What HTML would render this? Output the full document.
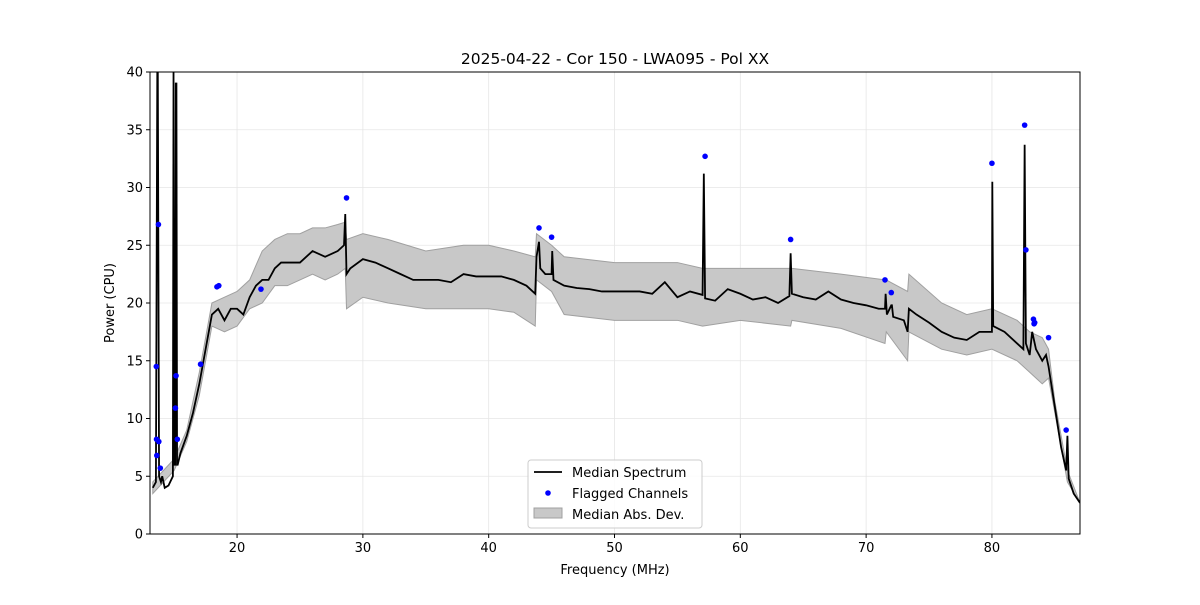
<!DOCTYPE html>
<html><head><meta charset="utf-8"><style>
body{margin:0;background:#fff;font-family:"Liberation Sans","DejaVu Sans",sans-serif}
svg text{font-family:"DejaVu Sans","Liberation Sans",sans-serif}
</style></head><body>
<svg id="chart" width="1200" height="600" xmlns="http://www.w3.org/2000/svg">
<rect width="1200" height="600" fill="#fff"/>
<g id="grid"></g><g id="band"></g><g id="series"></g><g id="axes"></g>
</svg>
<script>
const medFreq=[13.3,13.55,13.66,13.7,13.8,13.95,14.05,14.25,14.55,14.9,14.95,15.0,15.08,15.13,15.18,15.23,15.28,15.5,16,16.5,17,17.5,18,18.5,19,19.5,20,20.5,21,21.5,22,22.5,23,23.5,24,25,26,27,28,28.5,28.6,28.7,29,30,31,32,33,34,35,36,37,38,39,40,41,42,43,43.7,43.8,44,44.1,44.5,45,45.05,45.15,46,47,48,49,50,51,52,53,54,55,56,57,57.1,57.2,58,59,60,61,62,63,63.9,64,64.1,65,66,67,68,69,70,71,71.5,71.55,71.65,72,72.05,72.15,73,73.3,73.4,74,75,76,77,78,79,80,80.03,80.1,81,82,82.5,82.6,82.7,83,83.2,83.5,84,84.3,84.5,85,85.5,85.9,86,86.1,86.5,87];
const medVal=[4,4.5,40,40,5,4.5,5,4,4.2,5,40,6,6,39,39,6,6,7,8.5,10.5,13,16,19,19.5,18.5,19.5,19.5,19,20.5,21.5,22,22,23,23.5,23.5,23.5,24.5,24,24.5,25,27.7,22.5,23,23.8,23.5,23,22.5,22,22,22,21.8,22.5,22.3,22.3,22.3,22,21.5,20.8,24,25.3,23,22.5,22.5,24.5,22,21.5,21.3,21.2,21,21,21,21,20.8,21.8,20.5,21,20.7,31.2,20.4,20.2,21.2,20.8,20.3,20.5,20,20.6,24.3,20.8,20.5,20.3,21,20.3,20,19.8,19.5,19.5,20.8,19,19.8,19.8,18.8,18.5,17.5,19.5,19,18.3,17.5,17,16.8,17.5,17.5,30.5,18,17.5,16.5,16,33.7,16.5,15.5,17.5,16,15,15.5,14.5,11,7.5,5.5,8.5,4.8,3.5,2.7];
const bandFreq=[13.3,15,16,17,18,19,20,21,22,23,24,25,26,27,28,28.6,28.7,30,32,35,38,40,42,43.7,43.8,45,46,50,55,57,60,64,64.1,68,71.5,71.6,73.3,73.4,76,78,80,82,83,84,84.5,85,86,87];
const bandLo=[3.5,5.5,8,12,18,17.5,18,19.5,20,21.5,21.5,22,22.5,22,22.5,23,19.5,20.5,20,19.5,19.5,19.5,19.2,18,22,21,19,18.5,18.5,18,18.5,18,18.5,17.8,16.5,17.5,15,17.5,16,15.5,16,15,14,13,13.5,10.5,4.5,2.7];
const bandHi=[4.5,6.5,9,14,20,20.5,21,22,24.5,25.5,26,26,26.5,26.5,26.8,27,25.5,26,25.5,24.5,25,25,24.5,24,26,25,24,23.5,23.5,23,23,23,23,22.5,22,22,21,22.5,20,19,19.5,18.5,17.5,17,16,11.5,5.5,2.7];
const flagFreq=[13.6,13.62,13.58,13.75,13.78,13.9,15.1,15.15,15.25,17.1,18.4,18.55,21.9,28.7,44.0,45.0,57.2,64.0,71.5,72.0,80.0,82.6,82.7,83.3,83.35,83.4,84.5,85.9];
const flagVal=[8.2,6.8,14.5,26.8,8,5.7,10.9,13.7,8.2,14.7,21.4,21.5,21.2,29.1,26.5,25.7,32.7,25.5,22,20.9,32.1,35.4,24.6,18.6,18.2,18.3,17,9];
const xTicks=[20,30,40,50,60,70,80];
const yTicks=[0,5,10,15,20,25,30,35,40];
const L=150,R=1080,T=72,B=534,X0=13.08,X1=87.0,Y0=0,Y1=40;
const sx=f=>L+(f-X0)/(X1-X0)*(R-L);
const sy=v=>B-(v-Y0)/(Y1-Y0)*(B-T);
const NS="http://www.w3.org/2000/svg";
function mk(tag,attrs,parent){const e=document.createElementNS(NS,tag);for(const k in attrs)e.setAttribute(k,attrs[k]);parent.appendChild(e);return e;}
const svg=document.getElementById('chart');
const grid=document.getElementById('grid');
xTicks.forEach(t=>{const l=mk('line',{x1:sx(t),x2:sx(t),y1:T,y2:B,stroke:'#e6e6e6','stroke-width':0.8},grid);

});
yTicks.forEach(t=>{const l=mk('line',{x1:L,x2:R,y1:sy(t),y2:sy(t),stroke:'#e6e6e6','stroke-width':0.8},grid);

});
const clip=mk('clipPath',{id:'pc'},svg);mk('rect',{x:L,y:T,width:R-L,height:B-T},clip);
let d='M'+bandFreq.map((f,i)=>sx(f)+','+sy(bandHi[i])).join(' L');
for(let i=bandFreq.length-1;i>=0;i--)d+=' L'+sx(bandFreq[i])+','+sy(bandLo[i]);
const band=mk('path',{d:d+'Z',fill:'#c8c8c8',stroke:'#a0a0a0','stroke-width':1,'clip-path':'url(#pc)'},document.getElementById('band'));


const ser=document.getElementById('series');
const line=mk('polyline',{points:medFreq.map((f,i)=>sx(f)+','+sy(medVal[i])).join(' '),fill:'none',stroke:'#000','stroke-width':1.8,'clip-path':'url(#pc)'},ser);


flagFreq.forEach((f,i)=>{const c=mk('circle',{cx:sx(f),cy:sy(flagVal[i]),r:2.8,fill:'#0000ff'},ser);

});
const ax=document.getElementById('axes');
const fr=mk('rect',{x:L,y:T,width:R-L,height:B-T,fill:'none',stroke:'#000','stroke-width':1},ax);


xTicks.forEach(t=>{mk('line',{x1:sx(t),x2:sx(t),y1:B,y2:B+4,stroke:'#000'},ax);
const tx=mk('text',{x:sx(t),y:B+18,'text-anchor':'middle','font-size':13},ax);tx.textContent=t;

});
yTicks.forEach(t=>{mk('line',{x1:L-4,x2:L,y1:sy(t),y2:sy(t),stroke:'#000'},ax);
const tx=mk('text',{x:L-7,y:sy(t)+4.5,'text-anchor':'end','font-size':13},ax);tx.textContent=t;

});
function txt(s,attrs,name){const e=mk('text',attrs,ax);e.textContent=s;

return e;}
txt('2025-04-22 - Cor 150 - LWA095 - Pol XX',{x:615,y:64,'text-anchor':'middle','font-size':15.5},'chart-title');
txt('Frequency (MHz)',{x:615,y:574,'text-anchor':'middle','font-size':13},'x-axis-title');
txt('Power (CPU)',{x:114,y:303,'text-anchor':'middle','font-size':13,transform:'rotate(-90 114 303)'},'y-axis-title');
const lg=mk('g',{},ax);


mk('rect',{x:528,y:460,width:174,height:68,rx:3,fill:'#fff','fill-opacity':0.85,stroke:'#ccc'},lg);
mk('line',{x1:534,x2:562,y1:472,y2:472,stroke:'#000','stroke-width':1.8},lg);
mk('circle',{cx:548,cy:493,r:2.8,fill:'#0000ff'},lg);
mk('rect',{x:534,y:508,width:28,height:10,fill:'#c8c8c8',stroke:'#a0a0a0'},lg);
[['Median Spectrum',477],['Flagged Channels',498],['Median Abs. Dev.',519]].forEach(([s,y])=>{const e=mk('text',{x:572,y:y,'font-size':13},lg);e.textContent=s;

});
</script>
</body></html>
